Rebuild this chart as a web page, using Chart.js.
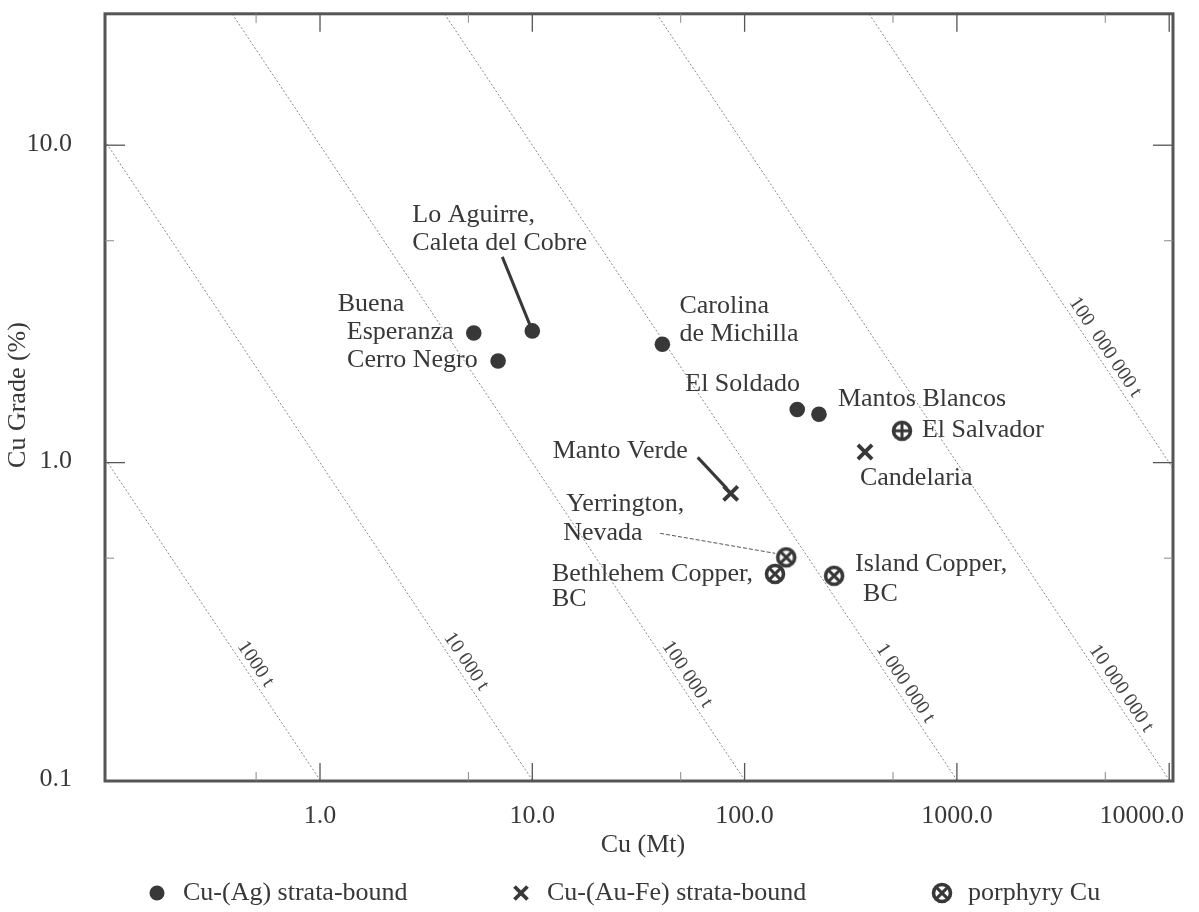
<!DOCTYPE html>
<html><head><meta charset="utf-8">
<script src="https://cdn.jsdelivr.net/npm/chart.js@4/dist/chart.umd.min.js"></script>
<style>html,body{margin:0;padding:0;background:#fff;}</style>
</head><body>
<canvas id="c" width="1199" height="912"></canvas>
<script>
// ---------- data ----------
const agNames = ['Buena Esperanza', 'Lo Aguirre, Caleta del Cobre', 'Cerro Negro', 'Carolina de Michilla', 'El Soldado', 'Mantos Blancos'];
const agOre   = [5.3, 10.0, 6.9, 41, 177, 224];
const agGrade = [2.56, 2.6, 2.09, 2.36, 1.47, 1.42];

const feNames = ['Manto Verde', 'Candelaria'];
const feOre   = [86, 369];
const feGrade = [0.80, 1.08];

const porNames = ['El Salvador', 'Yerrington, Nevada', 'Bethlehem Copper, BC', 'Island Copper, BC'];
const porOre   = [551, 157, 139, 264];
const porGrade = [1.26, 0.503, 0.446, 0.44];

const contourLabels = ['1000 t', '10 000 t', '100 000 t', '1 000 000 t', '10 000 000 t', '100  000 000 t'];
const contourStart  = [[0.001, 100], [0.01, 100], [0.1, 100], [1, 100], [10, 100], [100, 100]];
const contourEnd    = [[10, 0.01], [100, 0.01], [1000, 0.01], [10000, 0.01], [100000, 0.01], [1000000, 0.01]];
const contourLabelAt = [[0.45, 0.222], [4.42, 0.226], [48.6, 0.206], [517, 0.193], [5380, 0.186], [4520, 2.21]];

const xTicks = [1, 10, 100, 1000, 10000];
const xTickLabels = ['1.0', '10.0', '100.0', '1000.0', '10000.0'];
const yTicks = [0.1, 1, 10];
const yTickLabels = ['0.1', '1.0', '10.0'];
const xMinor = [0.5, 5, 50, 500, 5000];
const yMinor = [0.5, 5];

const legendLabels = ['Cu-(Ag) strata-bound', 'Cu-(Au-Fe) strata-bound', 'porphyry Cu'];
const xTitle = 'Cu (Mt)';
const yTitle = 'Cu Grade (%)';

// ---------- styling ----------
const FONT = '"Liberation Serif", "Times New Roman", serif';
const INK = '#383838';

function makeMarker(kind) {
  const s = 24, c = document.createElement('canvas');
  c.width = s; c.height = s;
  const g = c.getContext('2d'), r = 8.5, m = s / 2;
  g.strokeStyle = INK; g.lineWidth = 3.6;
  g.beginPath(); g.arc(m, m, r, 0, Math.PI * 2); g.stroke();
  g.lineWidth = 3; g.beginPath();
  if (kind === 'x') {
    const d = r * 0.72;
    g.moveTo(m - d, m - d); g.lineTo(m + d, m + d);
    g.moveTo(m + d, m - d); g.lineTo(m - d, m + d);
  } else {
    g.moveTo(m - r, m); g.lineTo(m + r, m);
    g.moveTo(m, m - r); g.lineTo(m, m + r);
  }
  g.stroke();
  return c;
}
const markX = makeMarker('x');
const markPlus = makeMarker('plus');

const pts = (xs, ys) => xs.map((x, i) => ({ x: x, y: ys[i] }));

const datasets = [
  { label: legendLabels[0], data: pts(agOre, agGrade), pointStyle: 'circle', pointRadius: 7.8,
    pointBackgroundColor: INK, pointBorderWidth: 0, showLine: false, order: 1 },
  { label: legendLabels[1], data: pts(feOre, feGrade), pointStyle: 'crossRot', pointRadius: 10,
    pointBorderColor: INK, pointBorderWidth: 3.8, showLine: false, order: 1 },
  { label: legendLabels[2], data: pts(porOre, porGrade),
    pointStyle: porNames.map(n => n === 'El Salvador' ? markPlus : markX), pointRadius: 10,
    showLine: false, order: 1 }
];
contourLabels.forEach((lab, i) => {
  datasets.push({
    label: lab, type: 'line',
    data: [{ x: contourStart[i][0], y: contourStart[i][1] }, { x: contourEnd[i][0], y: contourEnd[i][1] }],
    borderColor: '#888', borderWidth: 1, borderDash: [2, 2], pointRadius: 0, fill: false, order: 10
  });
});

// annotations (text offsets in px relative to the data point)
const notes = [
  { set: 0, i: 0, lines: [['Buena', -136, -29], ['Esperanza', -127, -1]] },
  { set: 0, i: 1, lines: [['Lo Aguirre,', -120, -116], ['Caleta del Cobre', -120, -88]], lead: [-30, -74, 0, 0] },
  { set: 0, i: 2, lines: [['Cerro Negro', -151, -1]] },
  { set: 0, i: 3, lines: [['Carolina', 17, -38], ['de Michilla', 17, -10]] },
  { set: 0, i: 4, lines: [['El Soldado', -112, -25]] },
  { set: 0, i: 5, lines: [['Mantos Blancos', 19, -15]] },
  { set: 1, i: 0, lines: [['Manto Verde', -178, -42]], lead: [-33, -36, -4, -5] },
  { set: 1, i: 1, lines: [['Candelaria', -5, 26]] },
  { set: 2, i: 0, lines: [['El Salvador', 20, -1]] },
  { set: 2, i: 1, lines: [['Yerrington,', -220, -53], ['Nevada', -223, -24]], dash: [-126, -24, -11, -4] },
  { set: 2, i: 2, lines: [['Bethlehem Copper,', -223, 0], ['BC', -223, 25]] },
  { set: 2, i: 3, lines: [['Island Copper,', 21, -12], ['BC', 29, 18]] }
];

const decor = {
  id: 'decor',
  beforeDraw(chart) {
    const ctx = chart.ctx;
    ctx.save(); ctx.fillStyle = '#fff'; ctx.fillRect(0, 0, chart.width, chart.height); ctx.restore();
  },
  afterDatasetsDraw(chart) {
    const ctx = chart.ctx, a = chart.chartArea;
    const xs = chart.scales.x, ys = chart.scales.y;
    ctx.save();
    // contour labels
    ctx.font = '20px ' + FONT; ctx.fillStyle = '#444';
    ctx.textAlign = 'center'; ctx.textBaseline = 'middle';
    contourLabels.forEach((lab, i) => {
      const x1 = xs.getPixelForValue(contourStart[i][0]), y1 = ys.getPixelForValue(contourStart[i][1]);
      const x2 = xs.getPixelForValue(contourEnd[i][0]), y2 = ys.getPixelForValue(contourEnd[i][1]);
      const ang = Math.atan2(y2 - y1, x2 - x1);
      const px = xs.getPixelForValue(contourLabelAt[i][0]), py = ys.getPixelForValue(contourLabelAt[i][1]);
      ctx.save(); ctx.translate(px, py); ctx.rotate(ang);
      ctx.fillText(lab, 0, -11);
      ctx.restore();
    });
    // frame
    ctx.strokeStyle = '#555'; ctx.lineWidth = 3;
    ctx.strokeRect(a.left, a.top, a.right - a.left, a.bottom - a.top);
    // inward ticks
    ctx.lineWidth = 1.3; ctx.strokeStyle = '#555';
    const tick = (x1, y1, x2, y2) => { ctx.beginPath(); ctx.moveTo(x1, y1); ctx.lineTo(x2, y2); ctx.stroke(); };
    xTicks.forEach(v => { const p = xs.getPixelForValue(v); if (p > a.left + 2 && p < a.right - 2) { tick(p, a.bottom, p, a.bottom - 18); tick(p, a.top, p, a.top + 18); } });
    yTicks.forEach(v => { const p = ys.getPixelForValue(v); if (p > a.top + 2 && p < a.bottom - 2) { tick(a.left, p, a.left + 20, p); tick(a.right, p, a.right - 20, p); } });
    ctx.strokeStyle = '#888'; ctx.lineWidth = 1;
    xMinor.forEach(v => { const p = xs.getPixelForValue(v); tick(p, a.bottom, p, a.bottom - 9); tick(p, a.top, p, a.top + 9); });
    yMinor.forEach(v => { const p = ys.getPixelForValue(v); tick(a.left, p, a.left + 9, p); tick(a.right, p, a.right - 9, p); });

    // tick labels
    ctx.font = '26px ' + FONT; ctx.fillStyle = INK;
    ctx.textAlign = 'right'; ctx.textBaseline = 'middle';
    yTicks.forEach((v, i) => ctx.fillText(yTickLabels[i], a.left - 33, ys.getPixelForValue(v) - 1));
    ctx.textAlign = 'center';
    xTicks.forEach((v, i) => {
      const w = ctx.measureText(xTickLabels[i]).width;
      let p = xs.getPixelForValue(v);
      p = Math.min(p, chart.width - 15 - w / 2);
      ctx.fillText(xTickLabels[i], p, a.bottom + 35);
    });
    // axis titles
    ctx.fillText(xTitle, (a.left + a.right) / 2 + 4, a.bottom + 64);
    ctx.save(); ctx.translate(18, 395); ctx.rotate(-Math.PI / 2);
    ctx.fillText(yTitle, 0, 0); ctx.restore();

    // annotations
    ctx.textAlign = 'left';
    notes.forEach(n => {
      const el = chart.getDatasetMeta(n.set).data[n.i];
      const px = el.x, py = el.y;
      n.lines.forEach(l => ctx.fillText(l[0], px + l[1], py + l[2]));
      if (n.lead) {
        ctx.strokeStyle = INK; ctx.lineWidth = 3; ctx.setLineDash([]);
        tick(px + n.lead[0], py + n.lead[1], px + n.lead[2], py + n.lead[3]);
      }
      if (n.dash) {
        ctx.strokeStyle = '#555'; ctx.lineWidth = 1; ctx.setLineDash([4, 2]);
        tick(px + n.dash[0], py + n.dash[1], px + n.dash[2], py + n.dash[3]);
        ctx.setLineDash([]);
      }
    });

    // legend
    const ly = 893;
    const lx = [157, 521, 942];
    ctx.fillStyle = INK;
    ctx.beginPath(); ctx.arc(lx[0], ly, 7.5, 0, Math.PI * 2); ctx.fill();
    ctx.strokeStyle = INK; ctx.lineWidth = 3.8;
    tick(lx[1] - 6.5, ly - 6.5, lx[1] + 6.5, ly + 6.5);
    tick(lx[1] + 6.5, ly - 6.5, lx[1] - 6.5, ly + 6.5);
    ctx.drawImage(markX, lx[2] - 12, ly - 12);
    legendLabels.forEach((t, i) => ctx.fillText(t, lx[i] + 26, ly));
    ctx.restore();
  }
};

new Chart(document.getElementById('c'), {
  type: 'scatter',
  data: { datasets: datasets },
  options: {
    responsive: false, animation: false, devicePixelRatio: 1,
    layout: { padding: { left: 105, top: 10, right: 26, bottom: 131 } },
    plugins: { legend: { display: false }, tooltip: { enabled: false } },
    scales: {
      x: { type: 'logarithmic', min: 0.0971, max: 10421, display: false },
      y: { type: 'logarithmic', min: 0.0993, max: 25.94, display: false }
    }
  },
  plugins: [decor]
});
</script>
</body></html>
